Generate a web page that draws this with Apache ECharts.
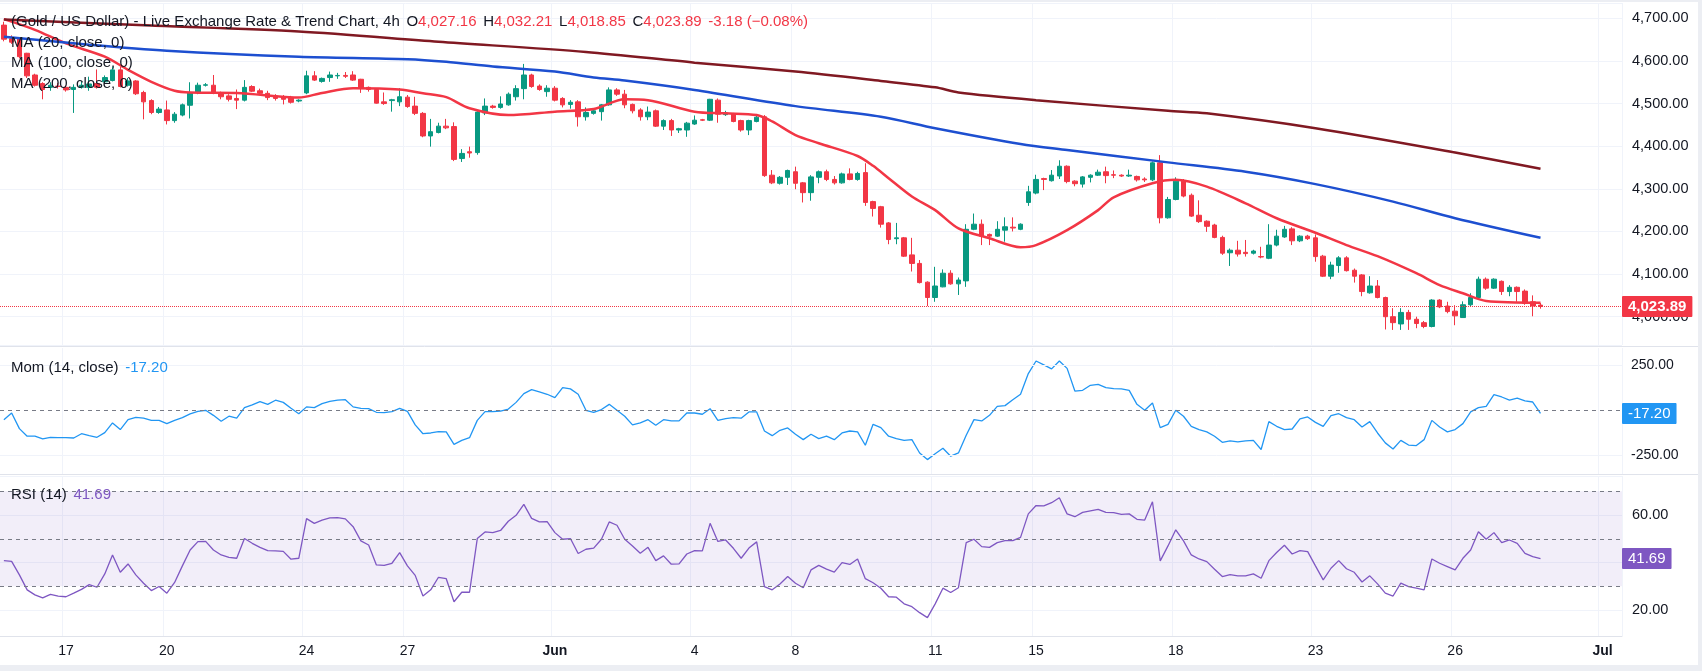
<!DOCTYPE html>
<html>
<head>
<meta charset="utf-8">
<title>Gold / US Dollar 4h</title>
<script src="https://cdn.jsdelivr.net/npm/echarts@6/dist/echarts.min.js"></script>
<style>
  html, body { margin: 0; padding: 0; background: #eceef3; }
  #chart { position: absolute; left: 0; top: 2px; width: 1698px; height: 663px; background: #fff; }
</style>
</head>
<body>
<div id="chart"></div>
<script>
// 4h candles (index 0 = first visible candle)
const opens = [
  4684, 4652, 4653, 4618, 4567, 4547, 4538, 4541, 4538, 4533,
  4538, 4538, 4547, 4551, 4554, 4579, 4543, 4553, 4526, 4507,
  4479, 4485, 4460, 4473, 4496, 4526, 4543, 4543, 4525, 4518,
  4512, 4508, 4540, 4530, 4524, 4518, 4515, 4515, 4506, 4525,
  4565, 4552, 4561, 4565, 4566, 4567, 4557, 4538, 4533, 4504,
  4507, 4504, 4515, 4494, 4477, 4424, 4432, 4447, 4446, 4371,
  4387, 4385, 4478, 4494, 4491, 4497, 4516, 4535, 4567, 4541,
  4528, 4536, 4512, 4498, 4504, 4469, 4477, 4481, 4497, 4532,
  4522, 4498, 4485, 4469, 4483, 4447, 4460, 4438, 4438, 4452,
  4462, 4461, 4508, 4474, 4476, 4460, 4438, 4458, 4469, 4332,
  4313, 4327, 4340, 4314, 4291, 4327, 4340, 4322, 4314, 4335,
  4322, 4338, 4270, 4258, 4220, 4183, 4185, 4145, 4125, 4081,
  4045, 4070, 4102, 4077, 4084, 4205, 4217, 4193, 4189, 4203,
  4210, 4205, 4268, 4290, 4324, 4319, 4330, 4353, 4318, 4311,
  4327, 4332, 4340, 4333, 4332, 4330, 4329, 4323, 4321, 4361,
  4232, 4275, 4318, 4285, 4238, 4224, 4215, 4186, 4150, 4156,
  4151, 4149, 4141, 4137, 4168, 4187, 4206, 4178, 4189, 4185,
  4142, 4095, 4120, 4138, 4109, 4098, 4056, 4072, 4045, 4000,
  3983, 4010, 3994, 3986, 3977, 4039, 4025, 4013, 3998, 4028,
  4045, 4088, 4067, 4083, 4059, 4069, 4060, 4035, 4027.16
];
const closes = [
  4651, 4644, 4610, 4565, 4543, 4533, 4543, 4540, 4532, 4538,
  4543, 4546, 4538, 4561, 4579, 4540, 4553, 4523, 4504, 4479,
  4487, 4460, 4475, 4497, 4526, 4543, 4544, 4525, 4516, 4510,
  4508, 4538, 4529, 4524, 4514, 4512, 4510, 4503, 4508, 4565,
  4555, 4559, 4567, 4566, 4564, 4555, 4536, 4533, 4501, 4500,
  4509, 4516, 4493, 4477, 4424, 4434, 4447, 4443, 4369, 4383,
  4384, 4480, 4494, 4491, 4499, 4522, 4535, 4567, 4540, 4533,
  4536, 4508, 4497, 4503, 4469, 4479, 4483, 4497, 4532, 4522,
  4497, 4483, 4469, 4480, 4447, 4460, 4438, 4441, 4454, 4461,
  4461, 4510, 4475, 4478, 4458, 4438, 4460, 4468, 4331, 4314,
  4327, 4343, 4313, 4291, 4328, 4340, 4322, 4314, 4335, 4322,
  4336, 4268, 4254, 4217, 4181, 4185, 4142, 4125, 4080, 4045,
  4072, 4102, 4077, 4086, 4205, 4217, 4189, 4189, 4205, 4211,
  4208, 4217, 4293, 4322, 4322, 4332, 4353, 4317, 4312, 4328,
  4332, 4339, 4331, 4332, 4330, 4332, 4321, 4321, 4361, 4232,
  4275, 4318, 4283, 4236, 4223, 4212, 4186, 4149, 4156, 4147,
  4148, 4154, 4140, 4168, 4189, 4205, 4178, 4189, 4183, 4141,
  4095, 4121, 4138, 4108, 4095, 4059, 4072, 4045, 4000, 3986,
  4010, 3994, 3984, 3977, 4039, 4023, 4012, 4002, 4028, 4045,
  4088, 4067, 4088, 4059, 4069, 4059, 4031, 4025, 4023.89
];
const lows = [
  4646, 4640, 4606, 4560, 4540, 4510, 4530, 4535, 4528, 4478,
  4535, 4530, 4535, 4548, 4552, 4538, 4540, 4520, 4463, 4475,
  4476, 4451, 4455, 4470, 4465, 4522, 4540, 4522, 4510, 4505,
  4487, 4505, 4527, 4520, 4508, 4507, 4498, 4500, 4503, 4522,
  4553, 4549, 4551, 4558, 4560, 4553, 4525, 4528, 4500, 4497,
  4481, 4494, 4490, 4473, 4421, 4399, 4430, 4440, 4365, 4363,
  4373, 4380, 4473, 4488, 4488, 4495, 4507, 4510, 4537, 4530,
  4516, 4505, 4491, 4488, 4446, 4460, 4474, 4460, 4495, 4518,
  4489, 4477, 4460, 4461, 4445, 4438, 4424, 4431, 4422, 4450,
  4459, 4459, 4455, 4471, 4456, 4434, 4426, 4456, 4328, 4311,
  4310, 4309, 4299, 4268, 4272, 4313, 4318, 4310, 4312, 4320,
  4319, 4260, 4235, 4209, 4170, 4170, 4140, 4106, 4078, 4025,
  4035, 4069, 4075, 4051, 4070, 4203, 4168, 4168, 4187, 4176,
  4200, 4203, 4260, 4287, 4297, 4317, 4323, 4313, 4306, 4303,
  4315, 4330, 4313, 4325, 4328, 4328, 4317, 4316, 4318, 4219,
  4230, 4273, 4280, 4234, 4220, 4199, 4184, 4145, 4119, 4141,
  4141, 4146, 4137, 4135, 4165, 4185, 4168, 4175, 4180, 4129,
  4093, 4088, 4103, 4106, 4080, 4048, 4054, 4043, 3970, 3969,
  3969, 3969, 3973, 3973, 3975, 4020, 4008, 3980, 3997, 4025,
  4043, 4063, 4065, 4051, 4048, 4035, 4028, 4001, 4018.85
];
const highs = [
  4692, 4660, 4655, 4619, 4570, 4550, 4550, 4548, 4542, 4545,
  4552, 4563, 4580, 4566, 4586, 4586, 4560, 4555, 4530, 4510,
  4492, 4507, 4480, 4500, 4550, 4549, 4548, 4567, 4528, 4522,
  4533, 4555, 4543, 4535, 4530, 4522, 4520, 4518, 4510, 4577,
  4576, 4561, 4575, 4572, 4574, 4576, 4558, 4540, 4536, 4526,
  4511, 4536, 4520, 4516, 4480, 4464, 4455, 4464, 4456, 4393,
  4399, 4482, 4512, 4497, 4517, 4526, 4543, 4593, 4570, 4545,
  4543, 4541, 4515, 4508, 4508, 4491, 4486, 4499, 4538, 4536,
  4532, 4500, 4489, 4493, 4486, 4463, 4464, 4443, 4457, 4472,
  4464, 4511, 4512, 4483, 4478, 4462, 4462, 4473, 4473, 4344,
  4330, 4345, 4352, 4316, 4332, 4343, 4345, 4330, 4338, 4348,
  4340, 4360, 4272, 4260, 4222, 4220, 4187, 4185, 4133, 4083,
  4117, 4111, 4109, 4092, 4217, 4242, 4228, 4195, 4224, 4233,
  4233, 4219, 4307, 4333, 4326, 4344, 4367, 4355, 4320, 4330,
  4334, 4345, 4352, 4343, 4334, 4345, 4331, 4327, 4364, 4379,
  4281, 4327, 4323, 4289, 4273, 4226, 4218, 4190, 4160, 4178,
  4180, 4157, 4164, 4217, 4204, 4213, 4210, 4191, 4192, 4193,
  4145, 4129, 4142, 4142, 4113, 4100, 4095, 4086, 4047, 4020,
  4020, 4016, 4000, 3990, 4041, 4041, 4035, 4027, 4036, 4055,
  4094, 4092, 4090, 4085, 4074, 4071, 4064, 4050, 4032.21
];

// moving averages, as [candle index, value]
const ma20 = [
  [0, 4698], [4, 4673], [8, 4641], [13, 4610], [16, 4579], [19, 4551], [22, 4530], [24, 4526],
  [30, 4525], [38, 4514], [41, 4525], [45, 4536], [51, 4533], [54, 4524], [57, 4515], [60, 4489],
  [65, 4473], [71, 4481], [76, 4487], [80, 4510], [83, 4508], [89, 4481], [93, 4477], [97, 4473],
  [99, 4458], [102, 4426], [105, 4407], [110, 4377], [112, 4354], [114, 4325], [117, 4282], [120, 4250],
  [123, 4207], [127, 4184], [131, 4163], [133, 4168], [137, 4203], [141, 4250], [143, 4280], [148, 4313],
  [151, 4321], [155, 4305], [160, 4266], [164, 4231], [169, 4197], [173, 4168], [177, 4142], [182, 4102],
  [185, 4074], [188, 4055], [191, 4037], [198, 4033]
];
const ma100 = [
  [0, 4657], [11, 4638], [21, 4624], [38, 4610], [52, 4604], [57, 4598], [63, 4587], [71, 4575],
  [76, 4561], [80, 4554], [89, 4532], [102, 4494], [113, 4469], [120, 4442], [131, 4405], [137, 4391],
  [150, 4362], [160, 4340], [169, 4311], [179, 4270], [187, 4231], [198, 4185]
];
const ma200 = [
  [0, 4697], [19, 4683], [38, 4669], [56, 4645], [75, 4621], [89, 4596], [102, 4575], [113, 4553],
  [120, 4538], [123, 4526], [133, 4508], [150, 4483], [155, 4477], [169, 4442], [187, 4385], [198, 4347]
];

const momentum = [
  -52, -15, -102, -144, -144, -159, -150, -152, -152, -154,
  -130, -141, -150, -124, -70, -107, -52, -39, -43, -56,
  -56, -74, -56, -41, -20, -6, 0, -28, -61, -33,
  -44, 15, 30, 48, 33, 56, 44, 11, -19, 19,
  15, 37, 50, 57, 59, 19, 11, 9, -11, -13,
  -7, 11, -6, -81, -130, -126, -119, -120, -189, -167,
  -152, -56, -7, -7, -4, 7, 44, 93, 115, 102,
  89, 70, 126, 119, 89, 0, -11, 4, 33, 0,
  -33, -81, -70, -52, -83, -52, -59, -59, -15, -15,
  -22, 9, -56, -46, -41, -44, -9, -9, -115, -141,
  -111, -98, -133, -163, -133, -157, -144, -163, -126, -115,
  -120, -194, -78, -96, -144, -157, -167, -163, -237, -274,
  -241, -211, -255, -237, -139, -52, -59, -28, 22, 26,
  59, 89, 204, 274, 252, 230, 274, 233, 107, 111,
  139, 144, 126, 120, 119, 111, 33, 0, 41, -96,
  -78, 0, -33, -89, -107, -120, -144, -178, -170, -176,
  -170, -167, -218, -63, -89, -107, -104, -48, -37, -67,
  -89, -30, -19, -41, -52, -93, -63, -126, -181, -215,
  -167, -193, -196, -163, -56, -93, -120, -107, -74, -9,
  15, 22, 87, 74, 56, 67, 52, 46, -17.20
];
const rsi = [
  40.8, 40.5, 34.8, 28.5, 26.4, 25.1, 26.6, 25.9, 25.6, 27.1,
  28.7, 30.7, 29.6, 35.2, 43.2, 35.9, 39.4, 34.8, 31.3, 28.2,
  29.9, 27.1, 31.6, 38.6, 45.3, 48.8, 48.9, 45.3, 43.2, 42.2,
  41.8, 50.1, 48.1, 46.4, 45.0, 44.9, 44.7, 41.4, 41.8, 58.5,
  56.5, 57.9, 58.8, 58.9, 58.4, 55.1, 49.1, 47.4, 39.0, 38.8,
  39.7, 44.2, 38.6, 34.6, 25.9, 28.5, 33.8, 33.2, 23.5, 27.5,
  27.5, 50.1, 52.9, 52.6, 53.5, 57.4, 59.9, 64.5, 58.6, 57.1,
  57.2, 52.6, 49.8, 50.1, 43.8, 45.6, 46.1, 49.8, 57.1, 55.7,
  49.8, 47.0, 43.9, 46.4, 40.8, 42.8, 39.3, 39.4, 43.6, 45.0,
  44.9, 56.5, 48.9, 49.5, 46.0, 41.8, 46.1, 48.7, 29.9, 28.5,
  31.0, 34.1, 31.3, 29.4, 36.9, 38.8, 37.2, 36.0, 40.0, 39.2,
  41.5, 33.2, 31.5, 29.2, 25.6, 25.4, 22.6, 21.4, 18.9, 16.8,
  22.6, 29.2, 27.4, 29.4, 48.4, 49.8, 46.7, 46.4, 48.4, 49.2,
  49.2, 50.6, 60.5, 64.0, 63.9, 65.2, 67.3, 60.5, 59.3, 61.1,
  61.8, 62.4, 61.1, 61.0, 60.3, 60.5, 58.2, 57.9, 65.6, 40.7,
  47.0, 53.8, 49.1, 43.2, 41.5, 40.4, 37.2, 34.1, 34.9, 34.4,
  34.4, 35.2, 33.4, 40.8, 44.2, 47.3, 43.6, 45.0, 44.6, 38.6,
  32.7, 37.6, 40.8, 37.4, 35.9, 31.8, 34.4, 31.0, 27.1, 25.9,
  31.3, 29.9, 29.2, 28.5, 41.5, 39.7, 38.3, 36.9, 41.8, 45.3,
  53.0, 49.8, 52.6, 48.4, 49.5, 48.1, 43.9, 42.5, 41.69
];

// time scale labels and the candle slot they sit on
const tickIdx = [8, 21, 39, 52, 71, 89, 102, 120, 133, 151, 169, 187, 206];
const tickText = ['17', '20', '24', '27', 'Jun', '4', '8', '11', '15', '18', '23', '26', 'Jul'];

const FONT = 'Liberation Sans';
const UP = '#089981';
const DOWN = '#f23645';
const GRID_LINE = '#f0f3fa';
const TEXT = '#131722';
const N_SLOTS = 209; // visible candles + empty space on the right

const slots = Array.from({ length: N_SLOTS }, (_, i) => String(i));
const tickAt = {};
tickIdx.forEach((ix, k) => { tickAt[ix] = tickText[k]; });
const isTick = (i) => tickAt[i] !== undefined;
const fmt2 = (v) => Number(v).toLocaleString('en-US', { minimumFractionDigits: 2, maximumFractionDigits: 2 });

const candles = opens.map((o, i) => [o, closes[i], lows[i], highs[i]]);
const last = closes.length - 1;

const chart = echarts.init(document.getElementById('chart'));

function xAxisFor(gi, withLabels) {
  return {
    type: 'category',
    gridIndex: gi,
    data: slots,
    boundaryGap: true,
    axisLine: { show: withLabels, lineStyle: { color: '#e0e3eb' } },
    axisTick: { show: false },
    axisLabel: {
      show: withLabels,
      interval: (i) => isTick(i),
      margin: 8,
      formatter: (v, i) => {
        const t = tickAt[i];
        if (t === undefined) return '';
        return /^[A-Z]/.test(t) ? '{b|' + t + '}' : t;
      },
      color: TEXT,
      fontSize: 14,
      fontFamily: FONT,
      rich: { b: { fontWeight: 'bold', fontSize: 14, fontFamily: FONT, color: TEXT } }
    },
    splitLine: { show: true, interval: (i) => isTick(i), lineStyle: { color: GRID_LINE, width: 1 } }
  };
}

const tagLabel = (bg, text) => ({
  show: true,
  position: 'end',
  distance: 0,
  formatter: text,
  backgroundColor: bg,
  color: '#fff',
  fontSize: 15,
  fontFamily: FONT,
  padding: [3, 6, 3, 6],
  borderRadius: 1
});
const axisText = (text) => ({
  show: true, position: 'end', distance: 9, formatter: text,
  color: TEXT, fontSize: 14, fontFamily: FONT
});

const option = {
  animation: false,
  backgroundColor: '#fff',
  grid: [
    { left: -2, right: 76, top: 1, height: 342 },
    { left: -2, right: 76, top: 346, height: 126 },
    { left: -2, right: 76, top: 474, height: 160 }
  ],
  xAxis: [xAxisFor(0, false), xAxisFor(1, false), xAxisFor(2, true)],
  yAxis: [
    {
      type: 'value', gridIndex: 0, position: 'right',
      min: 3933.6, max: 4735.9, splitNumber: 8,
      axisLine: { show: false }, axisTick: { show: false },
      axisLabel: { showMinLabel: false, showMaxLabel: false, formatter: fmt2, margin: 10, color: TEXT, fontSize: 14.5, fontFamily: FONT },
      splitLine: { lineStyle: { color: GRID_LINE } }
    },
    {
      type: 'value', gridIndex: 1, position: 'right',
      min: -353.9, max: 346.1,
      axisLine: { show: false }, axisTick: { show: false },
      axisLabel: { show: false }, splitLine: { show: false }
    },
    {
      type: 'value', gridIndex: 2, position: 'right',
      min: 9.07, max: 76.44, splitNumber: 3,
      axisLine: { show: false }, axisTick: { show: false },
      axisLabel: {
        showMinLabel: false, showMaxLabel: false, margin: 10, color: TEXT, fontSize: 14.5, fontFamily: FONT,
        formatter: (v) => (v === 20 || v === 60) ? fmt2(v) : ''
      },
      splitLine: { lineStyle: { color: GRID_LINE } }
    }
  ],
  series: [
    {
      name: 'XAUUSD', type: 'candlestick', xAxisIndex: 0, yAxisIndex: 0,
      data: candles, barWidth: 5,
      itemStyle: { color: UP, color0: DOWN, borderColor: UP, borderColor0: DOWN, borderWidth: 1 },
      markLine: {
        silent: true, symbol: 'none', animation: false,
        data: [{ yAxis: closes[last] }],
        lineStyle: { type: 'dotted', color: DOWN, width: 1 },
        label: Object.assign(tagLabel(DOWN, fmt2(closes[last])), { fontWeight: 'bold' })
      }
    },
    { name: 'MA20', type: 'line', xAxisIndex: 0, yAxisIndex: 0, data: ma20, smooth: 0.3, showSymbol: false, z: 3,
      lineStyle: { color: '#f23645', width: 2.5 } },
    { name: 'MA100', type: 'line', xAxisIndex: 0, yAxisIndex: 0, data: ma100, smooth: 0.3, showSymbol: false, z: 3,
      lineStyle: { color: '#1d4fd0', width: 2.5 } },
    { name: 'MA200', type: 'line', xAxisIndex: 0, yAxisIndex: 0, data: ma200, smooth: 0.3, showSymbol: false, z: 3,
      lineStyle: { color: '#801922', width: 2.5 } },
    {
      name: 'Mom', type: 'line', xAxisIndex: 1, yAxisIndex: 1, data: momentum, showSymbol: false,
      lineStyle: { color: '#2196f3', width: 1.3 },
      markLine: {
        silent: true, symbol: 'none', animation: false,
        data: [
          { yAxis: 250, lineStyle: { color: GRID_LINE, type: 'solid', width: 1 }, label: axisText('250.00') },
          { yAxis: -250, lineStyle: { color: GRID_LINE, type: 'solid', width: 1 }, label: axisText('-250.00') },
          { yAxis: 0, lineStyle: { color: '#787b86', type: [4, 4], width: 1 }, label: { show: false } },
          { yAxis: momentum[last], lineStyle: { color: 'rgba(0,0,0,0)', width: 0 }, label: tagLabel('#2196f3', fmt2(momentum[last])) }
        ]
      }
    },
    {
      name: 'RSI', type: 'line', xAxisIndex: 2, yAxisIndex: 2, data: rsi, showSymbol: false,
      lineStyle: { color: '#7e57c2', width: 1.3 },
      markArea: {
        silent: true,
        itemStyle: { color: 'rgba(126,87,194,0.1)' },
        data: [[{ yAxis: 30 }, { yAxis: 70 }]]
      },
      markLine: {
        silent: true, symbol: 'none', animation: false,
        data: [
          { yAxis: 70, lineStyle: { color: '#787b86', type: [4, 4], width: 1 }, label: { show: false } },
          { yAxis: 50, lineStyle: { color: '#787b86', type: [4, 4], width: 1 }, label: { show: false } },
          { yAxis: 30, lineStyle: { color: '#787b86', type: [4, 4], width: 1 }, label: { show: false } },
          { yAxis: rsi[last], lineStyle: { color: 'rgba(0,0,0,0)', width: 0 }, label: tagLabel('#7e57c2', rsi[last].toFixed(2)) }
        ]
      }
    }
  ],
  graphic: [
    { type: 'line', shape: { x1: 0, y1: 344.5, x2: 1698, y2: 344.5 }, style: { stroke: '#e0e3eb', lineWidth: 1 }, silent: true },
    { type: 'line', shape: { x1: 0, y1: 472.5, x2: 1698, y2: 472.5 }, style: { stroke: '#e0e3eb', lineWidth: 1 }, silent: true },
    {
      type: 'text', x: 11, y: 19.5, z: 100, silent: true,
      style: {
        text: '{d|(Gold / US Dollar) - Live Exchange Rate & Trend Chart, 4h}  {d|O}{r|4,027.16}  {d|H}{r|4,032.21}  {d|L}{r|4,018.85}  {d|C}{r|4,023.89}  {r|-3.18 (\u22120.08%)}',
        verticalAlign: 'middle',
        rich: {
          d: { fill: TEXT, fontSize: 15, fontFamily: FONT },
          r: { fill: DOWN, fontSize: 15, fontFamily: FONT }
        }
      }
    },
    { type: 'text', x: 11, y: 40.5, z: 100, silent: true, style: { text: 'MA (20, close, 0)', fill: TEXT, fontSize: 15, fontFamily: FONT, verticalAlign: 'middle' } },
    { type: 'text', x: 11, y: 61, z: 100, silent: true, style: { text: 'MA (100, close, 0)', fill: TEXT, fontSize: 15, fontFamily: FONT, verticalAlign: 'middle' } },
    { type: 'text', x: 11, y: 82, z: 100, silent: true, style: { text: 'MA (200, close, 0)', fill: TEXT, fontSize: 15, fontFamily: FONT, verticalAlign: 'middle' } },
    {
      type: 'text', x: 11, y: 365.5, z: 100, silent: true,
      style: {
        text: '{d|Mom (14, close)}  {v|' + fmt2(momentum[last]) + '}',
        verticalAlign: 'middle',
        rich: { d: { fill: TEXT, fontSize: 15, fontFamily: FONT }, v: { fill: '#2196f3', fontSize: 15, fontFamily: FONT } }
      }
    },
    {
      type: 'text', x: 11, y: 493, z: 100, silent: true,
      style: {
        text: '{d|RSI (14)}  {v|' + rsi[last].toFixed(2) + '}',
        verticalAlign: 'middle',
        rich: { d: { fill: TEXT, fontSize: 15, fontFamily: FONT }, v: { fill: '#7e57c2', fontSize: 15, fontFamily: FONT } }
      }
    }
  ]
};

chart.setOption(option);
window.addEventListener('resize', () => chart.resize());
</script>
</body>
</html>
